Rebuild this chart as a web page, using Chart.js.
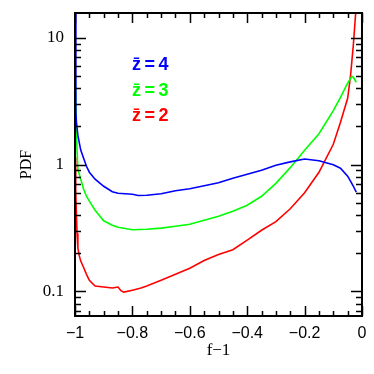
<!DOCTYPE html>
<html><head><meta charset="utf-8">
<script src="https://cdn.jsdelivr.net/npm/chart.js@4.4.1/dist/chart.umd.min.js"></script>
<style>html,body{margin:0;padding:0;background:#fff;}canvas{display:block;}</style>
</head><body>
<canvas id="c" width="374" height="374"></canvas>
<script>
// ---- data ----
const seriesLabels = ['z\u0304=4', 'z\u0304=3', 'z\u0304=2'];
const seriesColors = ['#0000ff', '#00ff00', '#ff0000'];

const blueX = [-1.0, -0.997, -0.995, -0.99, -0.98, -0.97, -0.96, -0.95, -0.93, -0.9, -0.87, -0.85, -0.8, -0.78, -0.75, -0.7, -0.65, -0.6, -0.55, -0.5, -0.45, -0.4, -0.35, -0.3, -0.25, -0.2, -0.15, -0.1, -0.075, -0.05, -0.04, -0.03, -0.02];
const blueY = [30, 2.6, 2.16, 1.70, 1.30, 1.12, 0.97, 0.87, 0.766, 0.674, 0.61, 0.594, 0.583, 0.57, 0.573, 0.589, 0.621, 0.644, 0.681, 0.719, 0.78, 0.839, 0.902, 0.987, 1.05, 1.105, 1.071, 0.996, 0.935, 0.809, 0.739, 0.674, 0.605];

const greenX = [-1.0, -0.995, -0.99, -0.98, -0.97, -0.96, -0.95, -0.93, -0.9, -0.87, -0.85, -0.8, -0.75, -0.7, -0.65, -0.6, -0.55, -0.5, -0.45, -0.4, -0.35, -0.3, -0.25, -0.2, -0.15, -0.1, -0.075, -0.05, -0.035, -0.03, -0.02];
const greenY = [6.89, 1.70, 0.918, 0.766, 0.639, 0.562, 0.514, 0.436, 0.36, 0.332, 0.32, 0.306, 0.309, 0.315, 0.326, 0.338, 0.364, 0.391, 0.428, 0.478, 0.562, 0.71, 0.945, 1.297, 1.75, 2.66, 3.39, 4.38, 4.97, 4.88, 4.46];

const redX = [-1.0, -0.998, -0.997, -0.995, -0.993, -0.99, -0.985, -0.98, -0.97, -0.96, -0.95, -0.93, -0.9, -0.87, -0.85, -0.84, -0.83, -0.8, -0.77, -0.75, -0.7, -0.65, -0.6, -0.55, -0.5, -0.45, -0.4, -0.35, -0.3, -0.25, -0.2, -0.15, -0.1, -0.075, -0.05, -0.04, -0.03, -0.022, -0.02];
const redY = [1.14, 1.08, 0.627, 0.398, 0.287, 0.219, 0.19, 0.173, 0.154, 0.136, 0.122, 0.11, 0.108, 0.106, 0.108, 0.101, 0.0985, 0.102, 0.106, 0.11, 0.122, 0.136, 0.152, 0.175, 0.195, 0.213, 0.253, 0.303, 0.354, 0.448, 0.599, 0.869, 1.446, 2.157, 3.33, 5.0, 8.87, 15.7, 20];

// ---- axes ----
const xTicks = [-1, -0.95, -0.9, -0.85, -0.8, -0.75, -0.7, -0.65, -0.6, -0.55, -0.5, -0.45, -0.4, -0.35, -0.3, -0.25, -0.2, -0.15, -0.1, -0.05, 0];
const xLabelValues = [-1, -0.8, -0.6, -0.4, -0.2, 0];
const xLabels = ['\u22121', '\u22120.8', '\u22120.6', '\u22120.4', '\u22120.2', '0'];
const yTicks = [0.07, 0.08, 0.09, 0.1, 0.2, 0.3, 0.4, 0.5, 0.6, 0.7, 0.8, 0.9, 1, 2, 3, 4, 5, 6, 7, 8, 9, 10];
const yLabelValues = [0.1, 1, 10];
const yLabels = ['0.1', '1', '10'];
const yMin = 0.0638, yMax = 15.7;

function pts(xs, ys) { return xs.map((x, i) => ({x: x, y: ys[i]})); }
function findLabel(vals, labs, v) {
  for (let i = 0; i < vals.length; i++) if (Math.abs(vals[i] - v) < 1e-9) return labs[i];
  return '';
}

const frameTicks = {
  id: 'frameTicks',
  afterDraw(chart) {
    const {ctx, chartArea: a, scales} = chart;
    ctx.save();
    ctx.strokeStyle = '#000';
    ctx.lineWidth = 1.5;
    ctx.beginPath();
    scales.x.ticks.forEach(t => {
      const px = Math.round(scales.x.getPixelForValue(t.value)) + 0.5;
      const major = Math.abs(t.value * 5 - Math.round(t.value * 5)) < 1e-6;
      const len = major ? 10 : 5;
      ctx.moveTo(px, a.bottom); ctx.lineTo(px, a.bottom - len);
      ctx.moveTo(px, a.top); ctx.lineTo(px, a.top + len);
    });
    scales.y.ticks.forEach(t => {
      const py = Math.round(scales.y.getPixelForValue(t.value)) + 0.5;
      const lg = Math.log10(t.value);
      const major = Math.abs(lg - Math.round(lg)) < 1e-6;
      const len = major ? 11 : 6;
      ctx.moveTo(a.left, py); ctx.lineTo(a.left + len, py);
      ctx.moveTo(a.right, py); ctx.lineTo(a.right - len, py);
    });
    ctx.stroke();
    ctx.lineWidth = 2;
    ctx.strokeRect(a.left, a.top, a.right - a.left, a.bottom - a.top);
    // legend text
    ctx.font = 'bold 18px "Liberation Sans"';
    ctx.textBaseline = 'alphabetic';
    ctx.textAlign = 'left';
    try { ctx.letterSpacing = '3.5px'; } catch (e) {}
    const ys = [70, 96, 121];
    chart.data.datasets.forEach((ds, i) => {
      ctx.fillStyle = ds.borderColor;
      ctx.fillText(ds.label, 132, ys[i]);
    });
    ctx.restore();
  }
};

new Chart(document.getElementById('c'), {
  type: 'line',
  data: {
    datasets: [
      {label: seriesLabels[0], data: pts(blueX, blueY), borderColor: seriesColors[0]},
      {label: seriesLabels[1], data: pts(greenX, greenY), borderColor: seriesColors[1]},
      {label: seriesLabels[2], data: pts(redX, redY), borderColor: seriesColors[2]}
    ]
  },
  options: {
    responsive: false, animation: false, devicePixelRatio: 1,
    layout: {padding: {left: 0, right: 12, top: 13, bottom: 0}},
    plugins: {legend: {display: false}, tooltip: {enabled: false}},
    elements: {point: {radius: 0}, line: {tension: 0, borderWidth: 1.6, fill: false}},
    scales: {
      x: {
        type: 'linear', min: -1, max: 0,
        afterFit(s) { s.height = 58; s.paddingLeft = 0; s.paddingRight = 0; },
        afterBuildTicks(s) { s.ticks = xTicks.map(v => ({value: v})); },
        grid: {display: true, drawOnChartArea: false, drawTicks: false, color: 'rgba(0,0,0,0)'},
        border: {display: false},
        ticks: {autoSkip: false, maxRotation: 0, minRotation: 0, padding: 8, color: '#000',
          font: {family: '"Liberation Sans"', size: 16},
          callback: (v) => findLabel(xLabelValues, xLabels, v)},
        title: {display: true, text: 'f\u22121', color: '#000',
          font: {family: '"Liberation Serif"', size: 17}, padding: {top: 0, bottom: 13}}
      },
      y: {
        type: 'logarithmic', min: yMin, max: yMax,
        afterFit(s) { s.width = 75; s.paddingTop = 0; s.paddingBottom = 0; },
        afterBuildTicks(s) { s.ticks = yTicks.map(v => ({value: v})); },
        grid: {display: true, drawOnChartArea: false, drawTicks: false, color: 'rgba(0,0,0,0)'},
        border: {display: false},
        ticks: {autoSkip: false, padding: 11, color: '#000',
          font: {family: '"Liberation Serif"', size: 17},
          callback: (v) => findLabel(yLabelValues, yLabels, v)},
        title: {display: true, text: 'PDF', color: '#000',
          font: {family: '"Liberation Serif"', size: 16}, padding: {top: 17, bottom: 0}}
      }
    }
  },
  plugins: [frameTicks]
});
</script>
</body></html>
